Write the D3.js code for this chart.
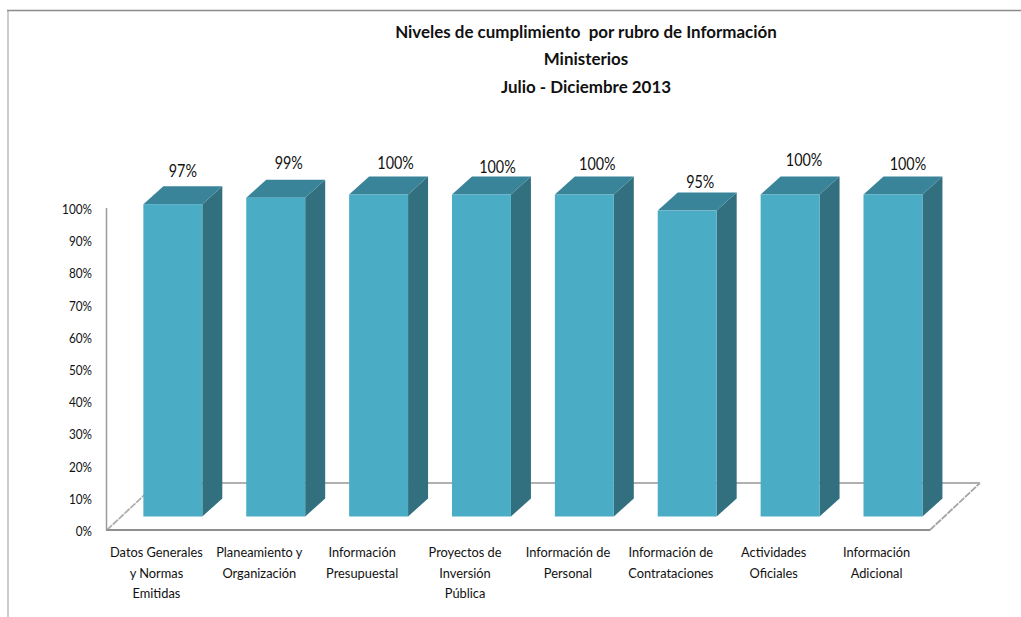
<!DOCTYPE html>
<html><head><meta charset="utf-8">
<script src="https://cdn.jsdelivr.net/npm/d3@7"></script>
<style>html,body{margin:0;background:#fff}svg{display:block}text{font-family:Lato,"Open Sans",sans-serif;fill:#111}</style>
</head><body><svg id="c" width="1021" height="617"></svg>
<script>
const titleLines=["Niveles de cumplimiento  por rubro de Información","Ministerios","Julio - Diciembre 2013"];
const categories=[["Datos Generales","y Normas","Emitidas"],["Planeamiento y","Organización"],["Información","Presupuestal"],["Proyectos de","Inversión","Pública"],["Información de","Personal"],["Información de","Contrataciones"],["Actividades","Oficiales"],["Información","Adicional"]];
const values=[97,99,100,100,100,95,100,100];
const yTicks=[0,10,20,30,40,50,60,70,80,90,100];
const labelNudgeX=[0,3,7,6,3,3,4,5];
const labelNudgeY=[-1,-3,0,4,1,3,-3,1];

const svg=d3.select("#c");
const x=d3.scaleBand().domain(d3.range(values.length)).range([107,930]).paddingInner(0.427).paddingOuter(0.2135);
const y=d3.scaleLinear().domain([0,100]).range([530,208]);
const floorDx=50,floorDy=-47,barShiftX=14.4,barShiftY=-13.5,depthX=20,depthY=-18;
const condense=(sel,f)=>sel.each(function(){this.setAttribute("textLength",this.getComputedTextLength()*f);this.setAttribute("lengthAdjust","spacingAndGlyphs");});

svg.append("path").attr("d","M8,617V10").attr("fill","none").attr("stroke","#cccccc").attr("stroke-width",2);
svg.append("path").attr("d","M7,10.5H1021").attr("stroke","#8c8c8c").attr("stroke-width",1.4);

const floor=svg.append("g").attr("fill","none");
floor.append("line").attr("x1",107).attr("x2",107+floorDx).attr("y1",y(0)).attr("y2",y(0)+floorDy).attr("stroke","#b0b0b0").attr("stroke-width",1.8).attr("stroke-dasharray","7 1");
floor.append("line").attr("x1",930).attr("x2",930+floorDx).attr("y1",y(0)).attr("y2",y(0)+floorDy).attr("stroke","#a4a4a4").attr("stroke-width",1.8).attr("stroke-dasharray","7 1");
floor.append("line").attr("x1",107+floorDx).attr("x2",930+floorDx).attr("y1",y(0)+floorDy).attr("y2",y(0)+floorDy).attr("stroke","#b0b0b0").attr("stroke-width",2);
floor.append("line").attr("x1",106).attr("x2",930).attr("y1",y(0)).attr("y2",y(0)).attr("stroke","#8f8f8f").attr("stroke-width",2);
floor.append("line").attr("x1",106.5).attr("x2",106.5).attr("y1",y(100)).attr("y2",y(0)).attr("stroke","#9a9a9a").attr("stroke-width",1.5);

const ax=svg.append("g").attr("transform","translate(92,1)").call(d3.axisLeft(y).tickValues(yTicks).tickFormat(d=>d+"%").tickSize(0).tickPadding(0));
ax.select(".domain").remove();
ax.selectAll("text").attr("font-size",14).style("font-family","Lato").call(condense,0.84);

const bars=svg.append("g").selectAll("g").data(values).join("g")
  .attr("transform",(d,i)=>`translate(${x(i)+barShiftX},${barShiftY})`);
bars.append("path").attr("fill","#32707f").attr("d",d=>{const w=x.bandwidth(),t=y(d),b=y(0);
  return `M${w},${t}l${depthX},${depthY}V${b+depthY}l${-depthX},${-depthY}Z`;});
bars.append("path").attr("fill","#3a8499").attr("d",d=>{const w=x.bandwidth(),t=y(d);
  return `M0,${t}l${depthX},${depthY}H${w+depthX}l${-depthX},${-depthY}Z`;});
bars.append("rect").attr("fill","#4bacc6").attr("width",x.bandwidth()).attr("y",d=>y(d)).attr("height",d=>y(0)-y(d));

svg.append("g").selectAll("text").data(values).join("text")
  .attr("text-anchor","middle").attr("font-size",16.5)
  .attr("x",(d,i)=>x(i)+barShiftX+x.bandwidth()/2+depthX/2+labelNudgeX[i])
  .attr("y",(d,i)=>y(d)+barShiftY+depthY-8+labelNudgeY[i])
  .text(d=>d+"%").call(condense,0.87);

categories.forEach((lines,i)=>{
  svg.append("g").selectAll("text").data(lines).join("text")
    .attr("text-anchor","middle").attr("font-size",13.5)
    .attr("x",x(i)+x.bandwidth()/2-2).attr("y",(l,j)=>557+j*20.5).text(l=>l).call(condense,0.95);
});

svg.append("g").selectAll("text").data(titleLines).join("text")
  .attr("text-anchor","middle").attr("x",586).attr("y",(d,i)=>37.5+i*27.5)
  .attr("font-size",17.5).attr("font-weight",700).style("white-space","pre").text(d=>d).call(condense,0.967);
</script></body></html>
